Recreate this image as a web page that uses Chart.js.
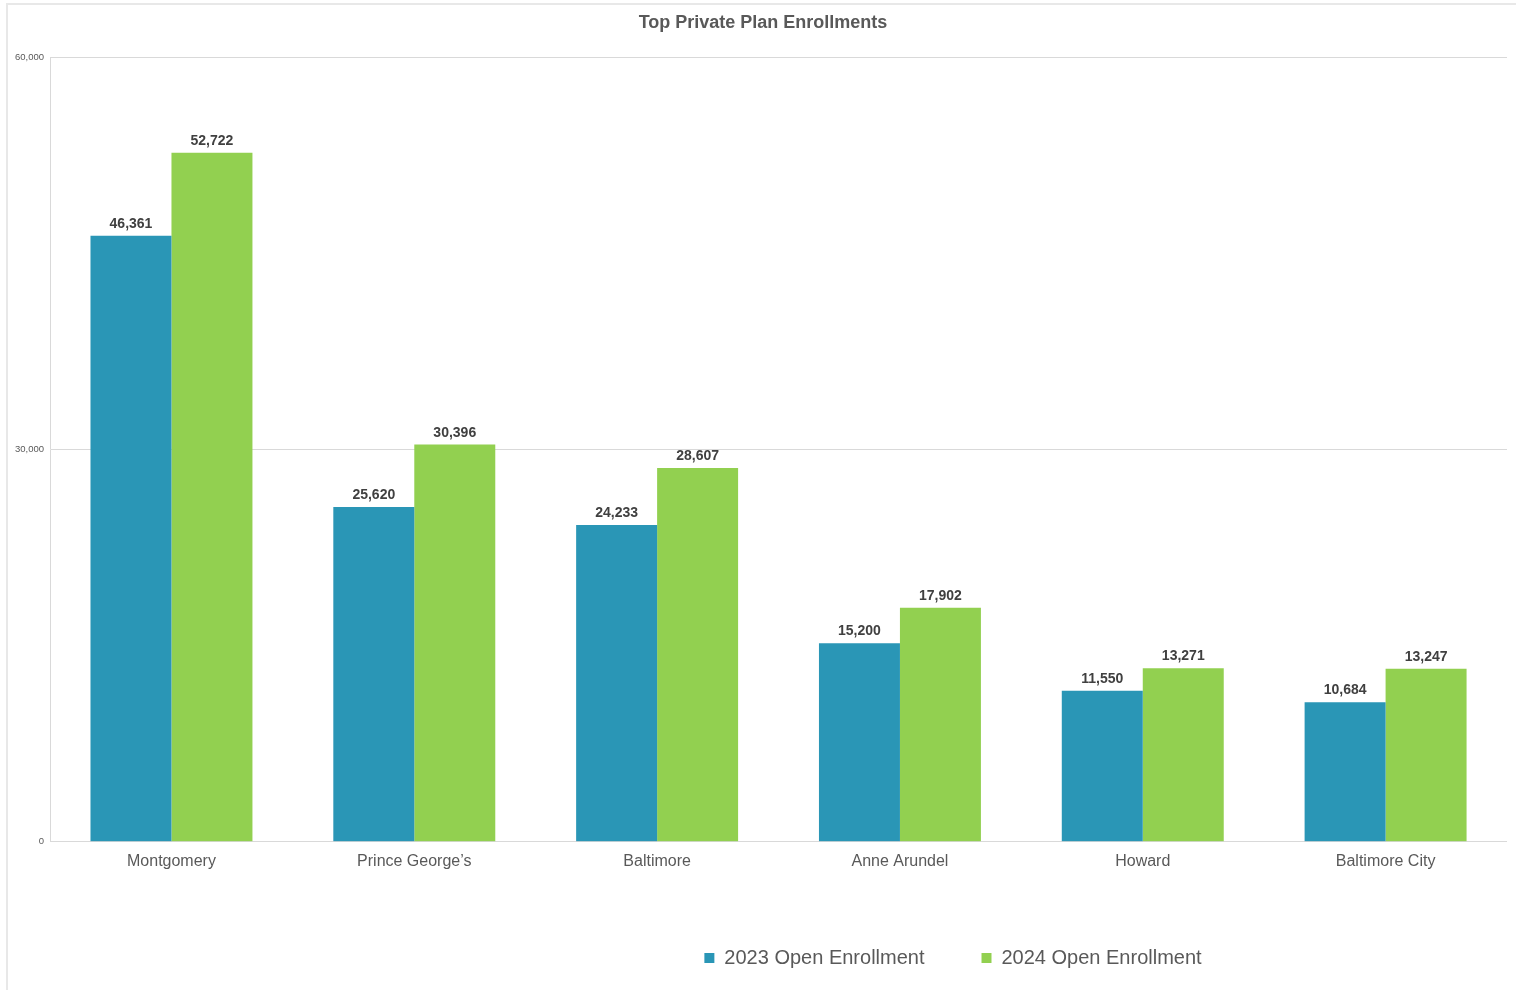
<!DOCTYPE html>
<html>
<head>
<meta charset="utf-8">
<script src="https://cdn.jsdelivr.net/npm/chart.js@4.4.1/dist/chart.umd.min.js"></script>
<style>
  html, body { margin: 0; padding: 0; background: #ffffff; overflow: hidden; }
  #wrap { position: relative; width: 1516px; height: 990px; }
  #frame { position: absolute; left: 6px; top: 3px; right: -10px; bottom: -10px;
           border-top: 2px solid #e8e8e8; border-left: 2px solid #e8e8e8; }
  #c { position: absolute; left: 0; top: 0; }
</style>
</head>
<body>
<div id="wrap">
  <div id="frame"></div>
  <canvas id="c" width="1516" height="990"></canvas>
</div>
<script>
const categories = ["Montgomery", "Prince George\u2019s", "Baltimore", "Anne Arundel", "Howard", "Baltimore City"];
const enroll2023 = [46361, 25620, 24233, 15200, 11550, 10684];
const enroll2024 = [52722, 30396, 28607, 17902, 13271, 13247];
const seriesNames = ["2023 Open Enrollment", "2024 Open Enrollment"];
const yTicks = [0, 30000, 60000];

const FONT = "'Liberation Sans', Arial, Helvetica, sans-serif";

const valueLabels = {
  id: 'valueLabels',
  afterDatasetsDraw(chart) {
    const ctx = chart.ctx;
    ctx.save();
    ctx.font = "bold 14px " + FONT;
    ctx.fillStyle = "#404040";
    ctx.textAlign = "center";
    ctx.textBaseline = "alphabetic";
    chart.data.datasets.forEach((ds, i) => {
      const meta = chart.getDatasetMeta(i);
      meta.data.forEach((bar, j) => {
        ctx.fillText(ds.data[j].toLocaleString('en-US'), bar.x, bar.y - 8);
      });
    });
    ctx.restore();
  }
};

const boxShift = {
  id: 'boxShift',
  afterLayout(chart) {
    const l = chart.legend;
    if (l) {
      const dx = 195, dy = 10;
      l.left += dx; l.right += dx; l.top += dy; l.bottom += dy;
    }
    const t = chart.titleBlock;
    if (t) { t.left += 5; t.right += 5; }
  }
};

new Chart(document.getElementById('c'), {
  type: 'bar',
  data: {
    labels: categories,
    datasets: [
      { label: seriesNames[0], data: enroll2023, backgroundColor: '#2a96b6', borderWidth: 0 },
      { label: seriesNames[1], data: enroll2024, backgroundColor: '#92d050', borderWidth: 0 }
    ]
  },
  options: {
    responsive: false,
    animation: false,
    devicePixelRatio: 1,
    layout: { padding: { left: 9, right: 9, top: 0, bottom: 22 } },
    datasets: { bar: { categoryPercentage: 0.667, barPercentage: 1.0 } },
    plugins: {
      tooltip: { enabled: false },
      title: {
        display: true,
        text: 'Top Private Plan Enrollments',
        color: '#595959',
        font: { family: FONT, size: 18, weight: 'bold' },
        padding: { top: 12, bottom: 24 }
      },
      legend: {
        display: true,
        position: 'bottom',
        labels: {
          color: '#595959',
          font: { family: FONT, size: 20 },
          boxWidth: 10,
          boxHeight: 10,
          padding: 57
        }
      }
    },
    scales: {
      x: {
        grid: { display: false, drawTicks: false },
        border: { display: false },
        ticks: { color: '#595959', font: { family: FONT, size: 16 }, padding: 10, maxRotation: 0 }
      },
      y: {
        min: 0,
        max: 60000,
        afterBuildTicks(scale) { scale.ticks = yTicks.map(v => ({ value: v })); },
        grid: { color: '#d9d9d9', lineWidth: 1, drawTicks: false },
        border: { display: true, color: '#d9d9d9', width: 1 },
        ticks: {
          color: '#595959',
          font: { family: FONT, size: 9.5 },
          padding: 6,
          callback: v => v.toLocaleString('en-US')
        }
      }
    }
  },
  plugins: [valueLabels, boxShift]
});
</script>
</body>
</html>
